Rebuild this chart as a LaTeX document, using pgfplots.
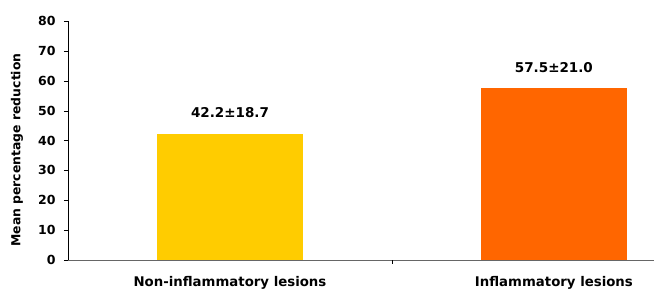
\documentclass[border=0pt]{standalone}
\usepackage{pgfplots}
\pgfplotsset{compat=1.18}
\usepackage{fontspec}
\setmainfont{DejaVu Sans}
\definecolor{barY}{HTML}{FFCC00}
\definecolor{barO}{HTML}{FF6600}
\begin{document}
\begin{tikzpicture}
\begin{axis}[
  at={(0,0)}, anchor=south west,
  scale only axis, width=586pt, height=239pt,
  xmin=-0.5, xmax=1.309, ymin=0, ymax=80,
  axis x line*=bottom, axis y line*=left,
  x axis line style={black!60},
  y axis line style={black},
  ytick={0,10,...,80},
  tick align=outside,
  ytick pos=left,
  major tick length=4pt,
  y tick style={black},
  yticklabel style={font=\fontsize{12.5}{14}\selectfont\bfseries, xshift=-5pt},
  /pgf/number format/assume math mode=true,
  xtick={0,1},
  xticklabels={Non-inflammatory lesions, Inflammatory lesions},
  x tick style={draw=none},
  xticklabel style={font=\fontsize{13.3}{15}\selectfont\bfseries, yshift=-9pt},
  extra x ticks={0.5},
  extra x tick labels={},
  extra x tick style={x tick style={draw=black, line width=0.6pt}, xticklabel style={yshift=0pt}},
  ylabel={Mean percentage reduction},
  ylabel style={font=\fontsize{12.4}{14}\selectfont\bfseries, at={(axis description cs:-0.087,0.46)}, anchor=center},
  ybar, bar width=146pt, bar shift=0pt,
  point meta=explicit symbolic,
  nodes near coords,
  nodes near coords style={font=\fontsize{13.5}{15}\selectfont\bfseries, anchor=base, yshift=16pt, inner sep=0pt},
  clip=false,
]
\addplot[fill=barY, draw=none] coordinates {(0,42.2) [42.2±18.7]};
\addplot[fill=barO, draw=none] coordinates {(1,57.5) [57.5±21.0]};
\end{axis}
\pgfresetboundingbox
\path[use as bounding box] (-68pt,-31pt) rectangle (586pt,260pt);
\end{tikzpicture}
\end{document}
